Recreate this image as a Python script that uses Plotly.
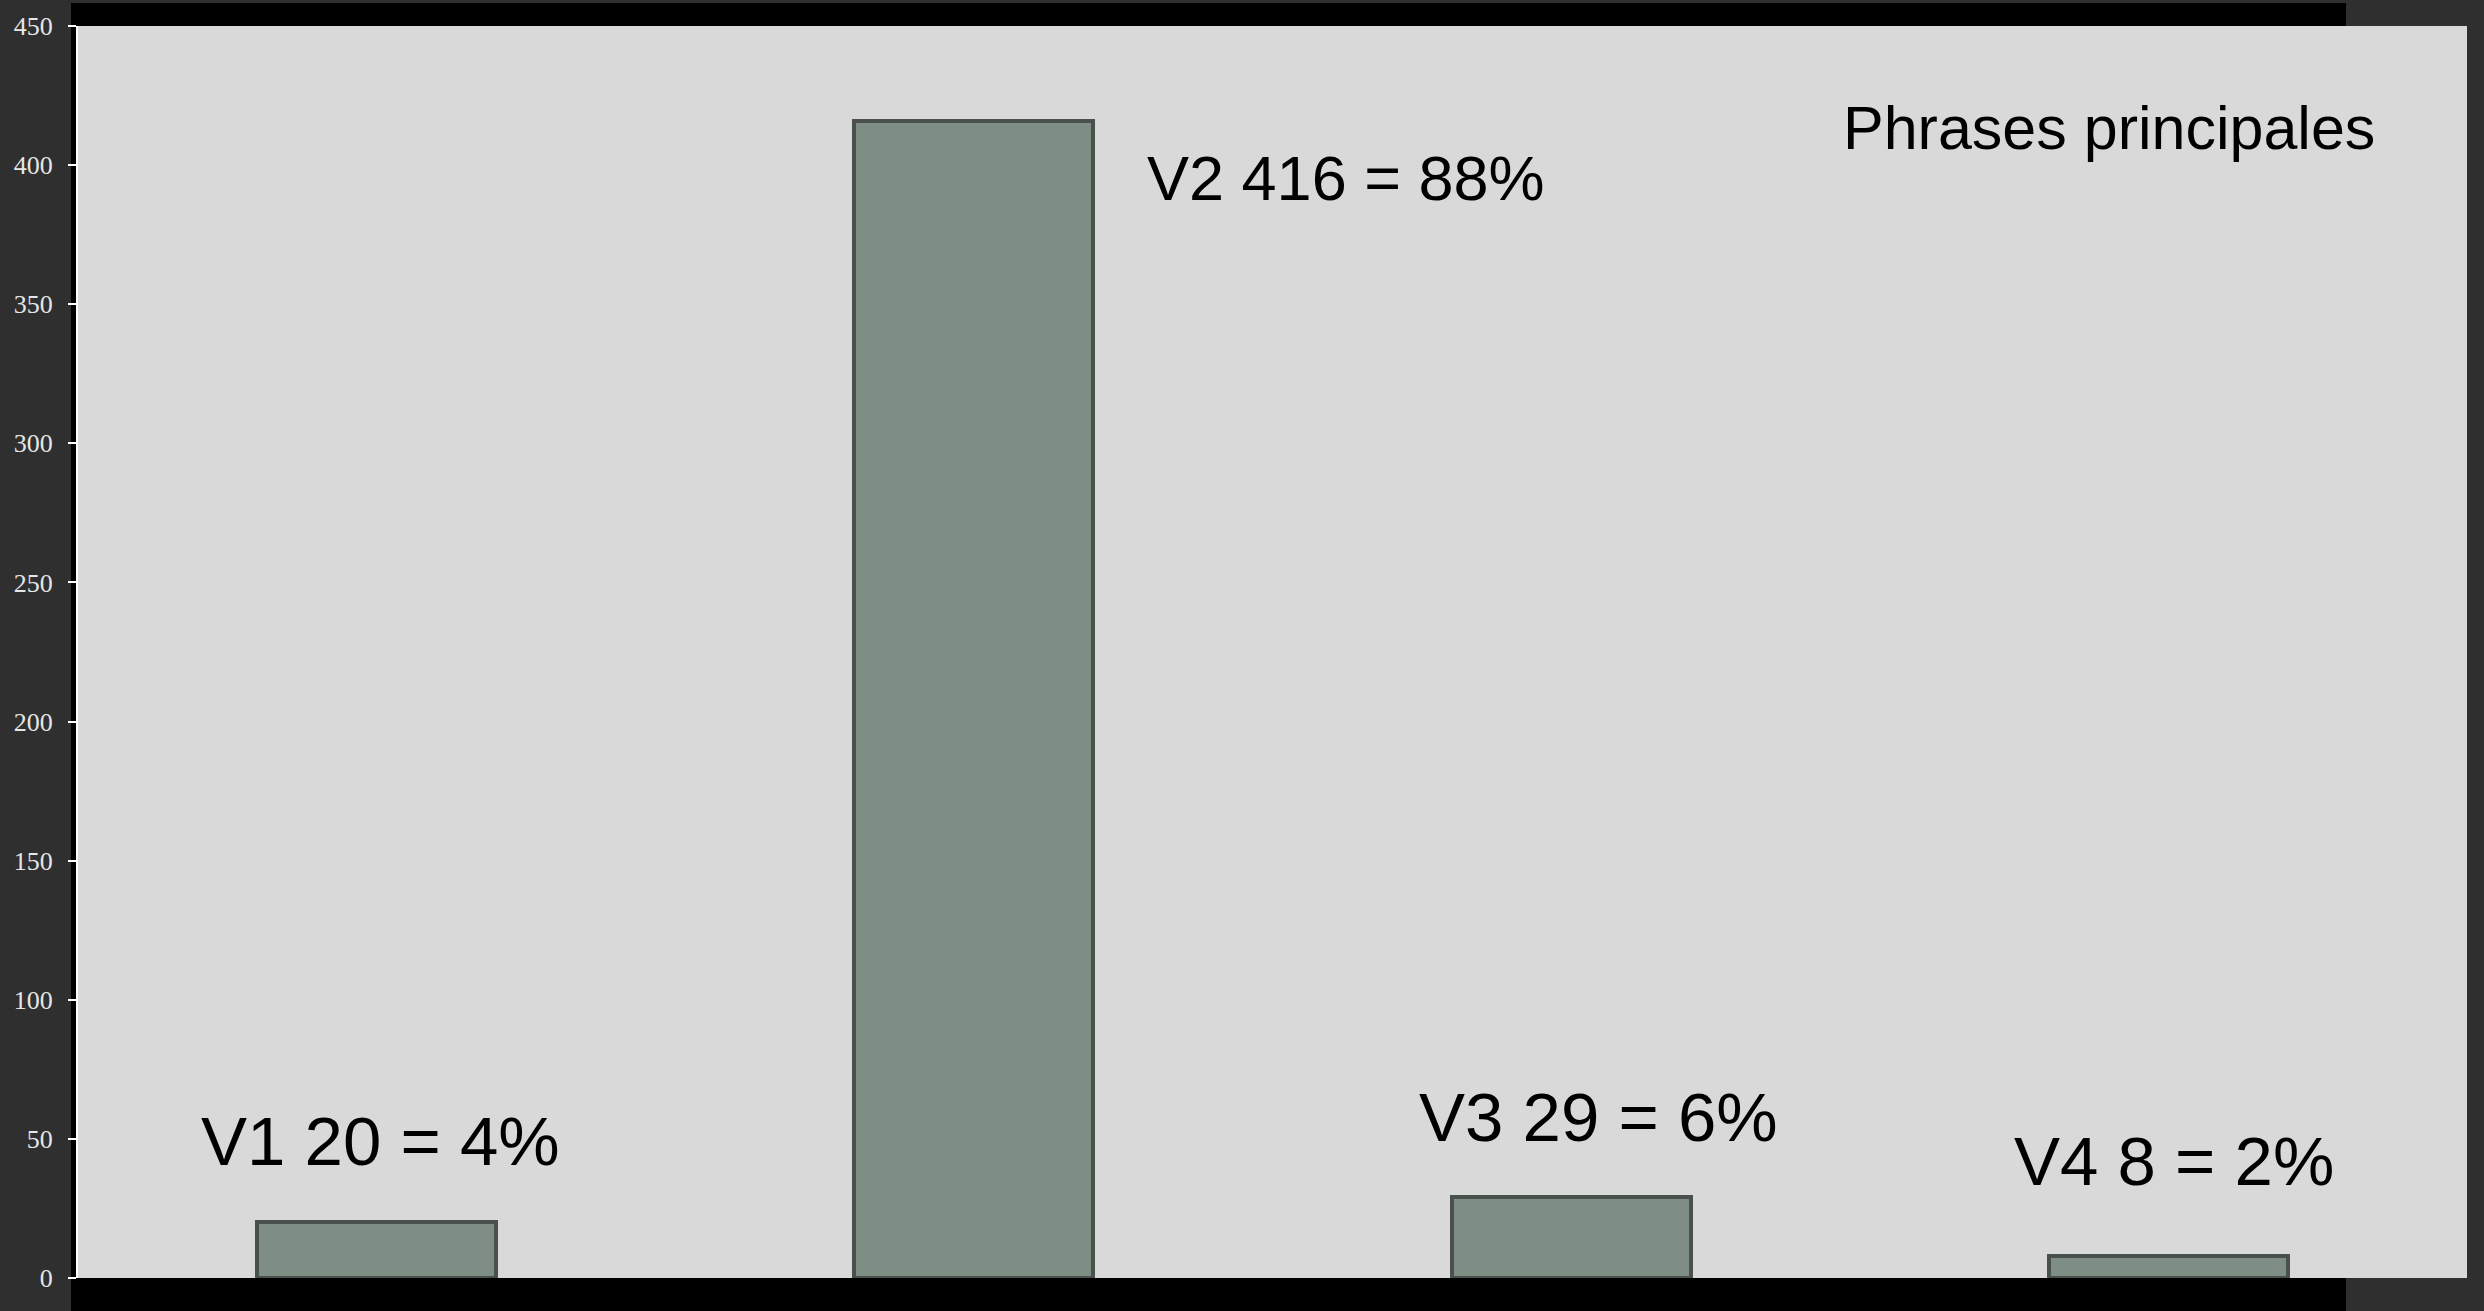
import plotly.graph_objects as go

categories = ["V1", "V2", "V3", "V4"]
values = [20, 416, 29, 8]
labels = ["V1 20 = 4%", "V2 416 = 88%", "V3 29 = 6%", "V4 8 = 2%"]
tick_vals = [0, 50, 100, 150, 200, 250, 300, 350, 400, 450]
title_text = "Phrases principales"

fig = go.Figure()
fig.add_trace(go.Bar(
    x=list(range(len(categories))), y=values, width=0.4,
    marker=dict(color="#7e8e84", line=dict(color="#4a504c", width=4)),
    hoverinfo="skip", showlegend=False,
))

# label placements: (x data, y data, font size)
label_pos = [(-0.298, 49.0, 69), (1.286, 395.5, 63), (1.742, 57.8, 69), (2.738, 41.8, 69)]
for txt, (lx, ly, fs) in zip(labels, label_pos):
    fig.add_annotation(x=lx, y=ly, xref="x", yref="y", text=txt, showarrow=False,
                       xanchor="left", yanchor="middle",
                       font=dict(family="Liberation Sans, Arial", size=fs, color="#000000"))
fig.add_annotation(x=2.452, y=413.5, xref="x", yref="y", text=title_text, showarrow=False,
                   xanchor="left", yanchor="middle",
                   font=dict(family="Liberation Sans, Arial", size=61, color="#000000"))

L, R, T, B = 78, 17, 23, 33
W, H = 2484, 1311
pw, ph = W - L - R, H - T - B
def px(xp):
    return (xp - L) / pw
def py(yp):
    return (H - B - yp) / ph

# black frame pieces outside the plotting area
for x0, x1, y0, y1 in [(71, 2346, 0, 23), (71, 2346, 1278, 1311), (71, 78, 0, 1311)]:
    fig.add_shape(type="rect", xref="paper", yref="paper",
                  x0=px(x0), x1=px(x1), y0=py(y1), y1=py(y0),
                  fillcolor="#000000", line=dict(width=0), layer="below")

fig.update_layout(
    width=W, height=H,
    margin=dict(l=L, r=R, t=T, b=B, pad=0),
    paper_bgcolor="#2f2f2f", plot_bgcolor="#d9d9d9",
    bargap=0,
    xaxis=dict(range=[-0.5, 3.5], visible=False, fixedrange=True),
    yaxis=dict(range=[0, 450], tickvals=tick_vals, ticks="outside", ticklen=8,
               tickwidth=2, tickcolor="#ffffff", showline=True, linecolor="#ffffff",
               linewidth=2, showgrid=False, zeroline=False, ticklabelstandoff=10,
               tickfont=dict(family="Liberation Serif, DejaVu Serif", size=26, color="#e6e6e6")),
)

fig.write_html("out.html")
